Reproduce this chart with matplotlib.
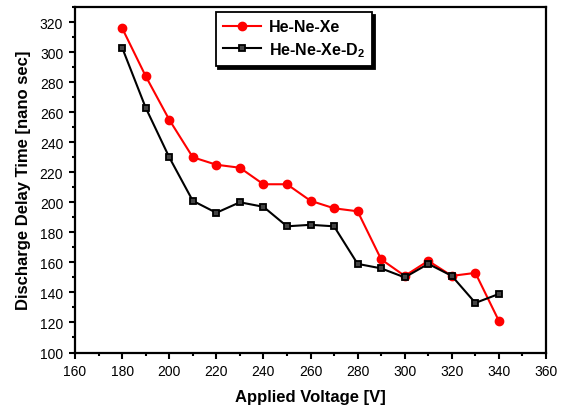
import matplotlib
matplotlib.use("Agg")
import matplotlib.pyplot as plt
from matplotlib.ticker import MultipleLocator

plt.rcParams["font.family"] = ["Liberation Sans", "DejaVu Sans"]
plt.rcParams["mathtext.fontset"] = "custom"
plt.rcParams["mathtext.bf"] = "Liberation Sans:bold"
plt.rcParams["mathtext.rm"] = "Liberation Sans:bold"

voltage = [180, 190, 200, 210, 220, 230, 240, 250, 260, 270, 280, 290, 300, 310, 320, 330, 340]
delay_xe = [316, 284, 255, 230, 225, 223, 212, 212, 201, 196, 194, 162, 151, 161, 151, 153, 121]
delay_xe_d2 = [303, 263, 230, 201, 193, 200, 197, 184, 185, 184, 159, 156, 150, 159, 151, 133, 139]

fig = plt.figure(figsize=(5.61, 4.10), dpi=100)
ax = fig.add_axes([0.1337, 0.1378, 0.8396, 0.8427])

ax.plot(voltage, delay_xe, color="red", linewidth=1.5, marker="o", markersize=6,
        markerfacecolor="red", markeredgecolor="red", label="He-Ne-Xe")
ax.plot(voltage, delay_xe_d2, color="black", linewidth=1.5, marker="s", markersize=5,
        markerfacecolor="#444444", markeredgecolor="black", markeredgewidth=1.3,
        label="He-Ne-Xe-D$_{2}$")

ax.set_xlim(160, 360)
ax.set_ylim(100, 330)
ax.xaxis.set_major_locator(MultipleLocator(20))
ax.xaxis.set_minor_locator(MultipleLocator(10))
ax.yaxis.set_major_locator(MultipleLocator(20))
ax.yaxis.set_minor_locator(MultipleLocator(10))
ax.tick_params(which="major", direction="out", length=4.5, width=1.5, labelsize=10, pad=4)
ax.tick_params(which="minor", direction="out", length=2.5, width=1.5)
for side in ax.spines.values():
    side.set_linewidth(1.6)

ax.set_xlabel("Applied Voltage [V]", fontsize=12, fontweight="bold", labelpad=8)
ax.set_ylabel("Discharge Delay Time [nano sec]", fontsize=12, fontweight="bold", labelpad=6)

leg = ax.legend(loc="upper center", bbox_to_anchor=(0.465, 0.985),
                prop={"weight": "bold", "size": 11.5}, fancybox=False,
                shadow={"color": "black", "alpha": 1}, edgecolor="black",
                framealpha=1, handlelength=2.4, borderpad=0.45, labelspacing=0.35,
                handletextpad=0.5, borderaxespad=0)
leg.get_frame().set_linewidth(1.3)

fig.savefig("out.png", dpi=100)
